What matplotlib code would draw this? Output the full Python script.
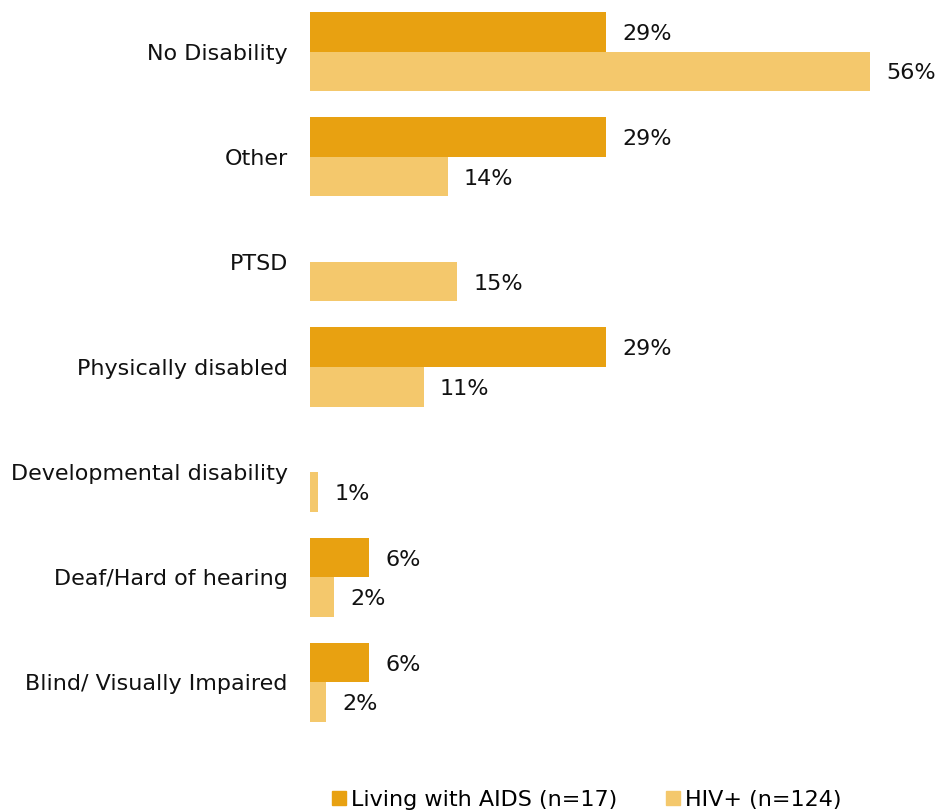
import matplotlib.pyplot as plt
from matplotlib.patches import Patch
import numpy as np

categories = ['No Disability', 'Other', 'PTSD', 'Physically disabled',
              'Developmental disability', 'Deaf/Hard of hearing',
              'Blind/ Visually Impaired']
# percent of respondents, None = no bar
aids = [29.4, 29.4, None, 29.4, None, 5.9, 5.9]
hiv = [55.6, 13.7, 14.6, 11.3, 0.8, 2.4, 1.6]
series_names = ['Living with AIDS (n=17)', 'HIV+ (n=124)']

c_aids = '#E8A111'
c_hiv = '#F4C86C'

fig = plt.figure(figsize=(9.39, 8.11), dpi=100)
ax = fig.add_axes([310 / 939, 1 - 722 / 811, 604 / 939, 710 / 811])

y = np.arange(len(categories))
h = 0.376
fs = 16

for i, (a, b) in enumerate(zip(aids, hiv)):
    if a is not None:
        ax.barh(y[i] - h / 2, a, height=h, color=c_aids)
        ax.text(a + 1.6, y[i] - h / 2 + 0.02, f'{a:.0f}%', va='center', ha='left',
                fontsize=fs, color='#111111')
    if b is not None:
        ax.barh(y[i] + h / 2, b, height=h, color=c_hiv)
        ax.text(b + 1.6, y[i] + h / 2 + 0.02, f'{b:.0f}%', va='center', ha='left',
                fontsize=fs, color='#111111')

ax.set_xlim(0, 60)
ax.set_ylim(len(categories) - 1 + h, -h)
ax.set_yticks(y)
ax.set_yticklabels(categories, fontsize=fs, color='#111111')
ax.tick_params(axis='y', length=0, pad=16)
ax.set_xticks([])
for s in ax.spines.values():
    s.set_visible(False)

handles = [Patch(color=c_aids), Patch(color=c_hiv)]
fig.legend(handles, series_names, loc='center', bbox_to_anchor=(587 / 939, 1 - 800 / 811),
           ncol=2, frameon=False, fontsize=fs, handlelength=0.6, handleheight=0.6,
           handletextpad=0.25, columnspacing=2.2)

fig.savefig('out.png', dpi=100)
